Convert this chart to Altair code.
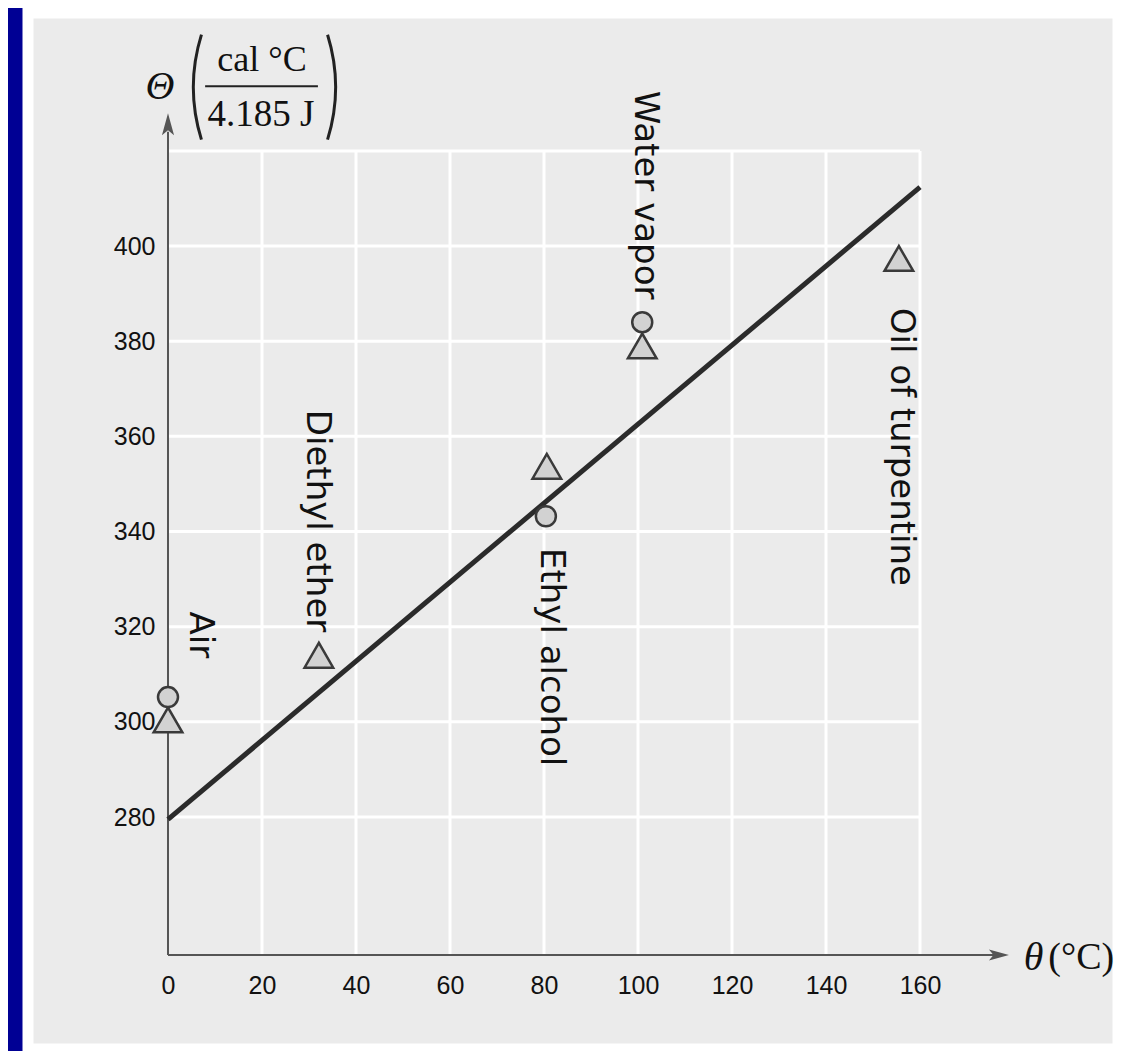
import altair as alt
import pandas as pd

# ---------------- data ----------------
x_tick_values = [0, 20, 40, 60, 80, 100, 120, 140, 160]
y_tick_values = [280, 300, 320, 340, 360, 380, 400]
grid_x_values = [20, 40, 60, 80, 100, 120, 140, 160]
grid_y_values = [280, 300, 320, 340, 360, 380, 400, 420]
grid_x_min, grid_x_max = 0, 160
grid_y_min, grid_y_max = 251, 420

circle_theta = [0, 80.4, 100.9]
circle_Theta = [305.2, 343.2, 384.0]
triangle_theta = [0, 32.1, 80.6, 100.9, 155.5]
triangle_Theta = [300.4, 314.0, 353.7, 379.0, 397.4]
fit_theta = [0, 160]
fit_Theta = [279.5, 412.4]

substances = ["Air", "Diethyl ether", "Ethyl alcohol", "Water vapor", "Oil of turpentine"]
label_theta = [6.8, 31.7, 81.5, 101.5, 156.0]
label_Theta = [318.3, 342.2, 313.6, 410.7, 357.8]

# ---------------- scales / axes ----------------
xs = alt.Scale(domain=[-29.787, 202.128], nice=False, zero=False)
ys = alt.Scale(domain=[231.24, 448.98], nice=False, zero=False)

xaxis = alt.Axis(values=x_tick_values, orient="bottom", offset=-94, domain=False,
                 ticks=False, grid=False, title=None, labelFont="Liberation Sans",
                 labelFontSize=25, labelColor="#111111", labelPadding=18,
                 labelFlush=False, labelOverlap=False)
yaxis = alt.Axis(values=y_tick_values, orient="left", offset=-140, domain=False,
                 ticks=False, grid=False, title=None, labelFont="Liberation Sans",
                 labelFontSize=25, labelColor="#111111", labelPadding=13,
                 labelFlush=False, labelOverlap=False)


def X(f):
    return alt.X(f, type="quantitative", scale=xs, axis=xaxis)


def Y(f):
    return alt.Y(f, type="quantitative", scale=ys, axis=yaxis)


# grid
vgrid = alt.Chart(pd.DataFrame({"x": grid_x_values, "y": grid_y_min, "y2": grid_y_max})).mark_rule(
    color="white", strokeWidth=3).encode(x=X("x"), y=Y("y"), y2="y2")
hgrid = alt.Chart(pd.DataFrame({"y": grid_y_values, "x": grid_x_min, "x2": grid_x_max})).mark_rule(
    color="white", strokeWidth=3).encode(x=X("x"), x2="x2", y=Y("y"))

# axis lines with arrows
axis_df = pd.DataFrame({"x": [0, 0], "x2": [0, 176], "y": [251, 251], "y2": [424, 251]})
axis_lines = alt.Chart(axis_df).mark_rule(color="#555555", strokeWidth=2).encode(
    x=X("x"), x2="x2", y=Y("y"), y2="y2")
arrow_up = alt.Chart(pd.DataFrame({"x": [0], "y": [425.6]})).mark_point(
    shape="M0,-1L0.55,1L0,0.55L-0.55,1Z", size=484, filled=True, fill="#555555",
    opacity=1, strokeWidth=0).encode(x=X("x"), y=Y("y"))
arrow_right = alt.Chart(pd.DataFrame({"x": [176.8], "y": [251]})).mark_point(
    shape="M1,0L-1,0.55L-0.55,0L-1,-0.55Z", size=400, filled=True, fill="#555555",
    opacity=1, strokeWidth=0).encode(x=X("x"), y=Y("y"))

# fit line
fit = alt.Chart(pd.DataFrame({"x": fit_theta, "y": fit_Theta})).mark_line(
    color="#2b2b2b", strokeWidth=5).encode(x=X("x"), y=Y("y"))

# points
tri = alt.Chart(pd.DataFrame({"x": triangle_theta, "y": triangle_Theta})).mark_point(
    shape="triangle-up", size=820, fill="#d2d2d2", stroke="#3a3a3a", strokeWidth=2.5,
    opacity=1, fillOpacity=1).encode(x=X("x"), y=Y("y"))
circ = alt.Chart(pd.DataFrame({"x": circle_theta, "y": circle_Theta})).mark_point(
    shape="circle", size=400, fill="#d2d2d2", stroke="#3a3a3a", strokeWidth=2.5,
    opacity=1, fillOpacity=1).encode(x=X("x"), y=Y("y"))

# substance labels
labels = alt.Chart(pd.DataFrame({"x": label_theta, "y": label_Theta, "t": substances})).mark_text(
    angle=90, font="DejaVu Sans", fontSize=34, color="#111111", align="center",
    baseline="middle").encode(x=X("x"), y=Y("y"), text="t:N")

# y-axis title: Θ ( cal °C / 4.185 J )
big_theta = alt.Chart(pd.DataFrame({"x": [-1.7], "y": [433.4], "t": ["Θ"]})).mark_text(
    font="Liberation Serif", fontStyle="italic", fontSize=40, color="#111111",
    align="center", baseline="middle").encode(x=X("x"), y=Y("y"), text="t:N")
num = alt.Chart(pd.DataFrame({"x": [20.0], "y": [439.1], "t": ["cal °C"]})).mark_text(
    font="Liberation Serif", fontSize=36, color="#111111", align="center",
    baseline="middle").encode(x=X("x"), y=Y("y"), text="t:N")
den = alt.Chart(pd.DataFrame({"x": [19.8], "y": [427.5], "t": ["4.185 J"]})).mark_text(
    font="Liberation Serif", fontSize=37, color="#111111", align="center",
    baseline="middle").encode(x=X("x"), y=Y("y"), text="t:N")
frac_bar = alt.Chart(pd.DataFrame({"x": [7.9], "x2": [31.9], "y": [433.6]})).mark_rule(
    color="#222222", strokeWidth=2).encode(x=X("x"), x2="x2", y=Y("y"))
lparen = alt.Chart(pd.DataFrame({"x": [43.19], "y": [433.4]})).mark_arc(
    radius=179, radius2=176, theta=4.412, theta2=5.013, color="#222222").encode(
    x=X("x"), y=Y("y"))
rparen = alt.Chart(pd.DataFrame({"x": [-2.13], "y": [433.4]})).mark_arc(
    radius=179, radius2=176, theta=1.271, theta2=1.871, color="#222222").encode(
    x=X("x"), y=Y("y"))

# x-axis title: θ (°C)
small_theta = alt.Chart(pd.DataFrame({"x": [182.1], "y": [250.4], "t": ["θ"]})).mark_text(
    font="Liberation Serif", fontStyle="italic", fontSize=40, color="#111111",
    align="left", baseline="middle").encode(x=X("x"), y=Y("y"), text="t:N")
unit = alt.Chart(pd.DataFrame({"x": [187.3], "y": [250.4], "t": ["(°C)"]})).mark_text(
    font="Liberation Serif", fontSize=38, color="#111111", align="left",
    baseline="middle").encode(x=X("x"), y=Y("y"), text="t:N")

chart = alt.layer(
    vgrid, hgrid, axis_lines, arrow_up, arrow_right, fit, tri, circ, labels,
    big_theta, num, den, frac_bar, lparen, rparen, small_theta, unit
).properties(
    width=1090, height=1036,
    padding={"left": 20, "top": 5, "right": 1, "bottom": 2},
    autosize=alt.AutoSizeParams(type="none"),
    background="#000094",
).configure_view(fill="#ebebeb", stroke="white", strokeWidth=11)

chart.save("out.html", embed_options={"renderer": "svg", "actions": False})
